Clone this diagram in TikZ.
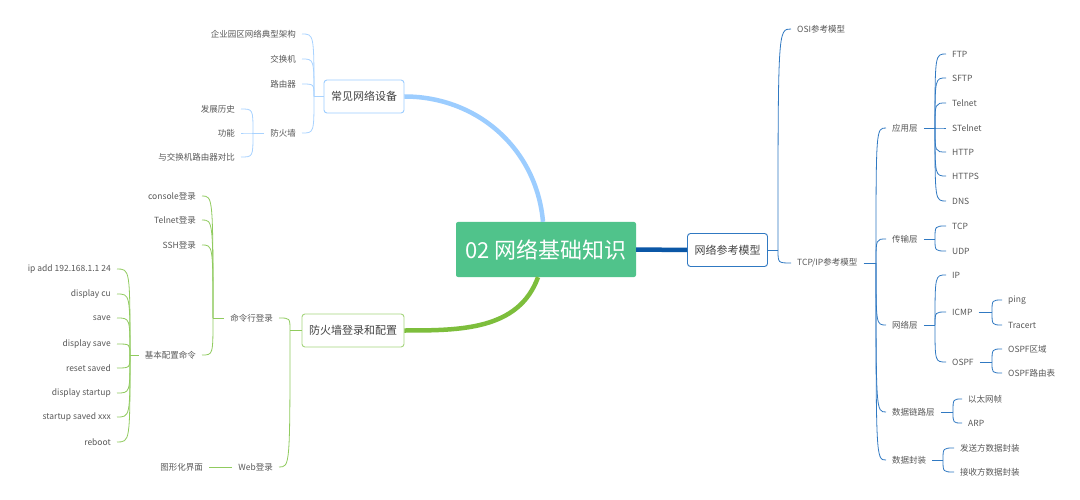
\documentclass[tikz,border=0pt]{standalone}
\usepackage{fontspec}
\setmainfont{Noto Sans CJK SC}
\usepackage{xcolor}
\usepackage{tikz}
\definecolor{MapGreen}{HTML}{50C38B}
\definecolor{MapSky}{HTML}{9CCDFF}
\definecolor{MapGrass}{HTML}{7DBE3C}
\definecolor{MapOcean}{HTML}{0B57A6}
\definecolor{SkyLine}{HTML}{A9D3FF}
\definecolor{GrassLine}{HTML}{90CB5E}
\definecolor{OceanLine}{HTML}{3079C2}
\definecolor{TextDark}{HTML}{444444}
\definecolor{TextGray}{HTML}{585858}

\begin{document}
\begin{tikzpicture}[
    x=1pt,y=-1pt,
    root/.style={fill=MapGreen, text=white, rounded corners=2pt, minimum width=180pt, minimum height=55pt, inner xsep=6pt, font=\fontsize{22}{26}\selectfont},
    topic/.style={fill=white, rounded corners=3pt, line width=0.9pt, minimum height=33pt, inner xsep=7pt, text=TextDark, font=\fontsize{11}{13}\selectfont},
    leaf/.style={inner xsep=6pt, inner ysep=2pt, text=TextGray, font=\fontsize{8.5}{10}\selectfont},
    skyline/.style={draw=SkyLine, line width=0.8pt},
    grassline/.style={draw=GrassLine, line width=0.8pt},
    oceanline/.style={draw=OceanLine, line width=0.8pt}
  ]
    \fill[white] (0,0) rectangle (1080,500);
    \useasboundingbox (0,0) rectangle (1080,500);

    \node[root] (root) at (546,249.5) {02 网络基础知识};
    \node[topic, draw=MapSky] (cat1) at (364,96.5) {常见网络设备};
    \node[topic, draw=GrassLine!80] (cat2) at (353,330.5) {防火墙登录和配置};
    \node[topic, draw=OceanLine] (cat3) at (727.5,250) {网络参考模型};
    \draw[line width=4.5pt, MapSky] ([xshift=-3pt]root.north) to[out=95,in=0] (cat1.east);
    \draw[line width=4.5pt, MapGrass] ([xshift=-8pt]root.south) to[out=-110,in=0] (cat2.east);
    \draw[line width=4.5pt, MapOcean] (root.east) -- (cat3.west);

    \coordinate (f1) at (314,96.5);
    \draw[skyline] (cat1.west) -- (f1);
    \foreach \n/\y/\t in {park/34/企业园区网络典型架构, switch/59/交换机, router/84/路由器, fw/133/防火墙} {
      \node[leaf, anchor=east] (\n) at (302,\y) {\t};
      \draw[skyline] (f1) .. controls (f1 |- \n.east) .. (\n.east);
    }
    \coordinate (f1b) at (253,133);
    \draw[skyline] (fw.west) -- (f1b);
    \foreach \n/\y/\t in {hist/109/发展历史, func/133/功能, cmp/157/与交换机路由器对比} {
      \node[leaf, anchor=east] (\n) at (241,\y) {\t};
      \draw[skyline] (f1b) .. controls (f1b |- \n.east) .. (\n.east);
    }

    \coordinate (f2) at (290,330.5);
    \draw[grassline] (cat2.west) -- (f2);
    \foreach \n/\y/\t in {cmd/318/命令行登录, web/467/Web登录} {
      \node[leaf, anchor=east] (\n) at (279,\y) {\t};
      \draw[grassline] (f2) .. controls (f2 |- \n.east) .. (\n.east);
    }
    \coordinate (f3) at (213,318);
    \draw[grassline] (cmd.west) -- (f3);
    \foreach \n/\y/\t in {console/196/console登录, telnetlog/220/Telnet登录, ssh/245/SSH登录, basic/355/基本配置命令} {
      \node[leaf, anchor=east] (\n) at (202,\y) {\t};
      \draw[grassline] (f3) .. controls (f3 |- \n.east) .. (\n.east);
    }
    \coordinate (f4) at (130,355);
    \draw[grassline] (basic.west) -- (f4);
    \foreach \n/\y/\t in {ipadd/269/ip add 192.168.1.1 24, dispcu/294/display cu, save/318/save, dispsave/344/display save, reset/368/reset saved, dispstart/393/display startup, startsaved/417/startup saved xxx, reboot/442/reboot} {
      \node[leaf, anchor=east] (\n) at (117,\y) {\t};
      \draw[grassline] (f4) .. controls (f4 |- \n.east) .. (\n.east);
    }
    \node[leaf, anchor=east] (gui) at (209,467) {图形化界面};
    \draw[grassline] (web.west) -- (gui.east);

    \coordinate (f5) at (778,250);
    \draw[oceanline] (cat3.east) -- (f5);
    \foreach \n/\y/\t in {osi/29/OSI参考模型, tcpip/263/{TCP/IP参考模型}} {
      \node[leaf, anchor=west] (\n) at (791,\y) {\t};
      \draw[oceanline] (f5) .. controls (f5 |- \n.west) .. (\n.west);
    }
    \coordinate (f6) at (876,263);
    \draw[oceanline] (tcpip.east) -- (f6);
    \foreach \n/\y/\t in {app/128/应用层, trans/239/传输层, net/325/网络层, link/412/数据链路层, encap/460/数据封装} {
      \node[leaf, anchor=west] (\n) at (886,\y) {\t};
      \draw[oceanline] (f6) .. controls (f6 |- \n.west) .. (\n.west);
    }
    \coordinate (f7) at (935,128);
    \draw[oceanline] (app.east) -- (f7);
    \foreach \n/\y/\t in {ftp/54/FTP, sftp/78/SFTP, telnet/103/Telnet, stelnet/128/STelnet, http/152/HTTP, https/176/HTTPS, dns/201/DNS} {
      \node[leaf, anchor=west] (\n) at (946,\y) {\t};
      \draw[oceanline] (f7) .. controls (f7 |- \n.west) .. (\n.west);
    }
    \coordinate (f8) at (935,239);
    \draw[oceanline] (trans.east) -- (f8);
    \foreach \n/\y/\t in {tcp/226/TCP, udp/251/UDP} {
      \node[leaf, anchor=west] (\n) at (946,\y) {\t};
      \draw[oceanline] (f8) .. controls (f8 |- \n.west) .. (\n.west);
    }
    \coordinate (f9) at (935,325);
    \draw[oceanline] (net.east) -- (f9);
    \foreach \n/\y/\t in {ip/275/IP, icmp/312/ICMP, ospf/362/OSPF} {
      \node[leaf, anchor=west] (\n) at (946,\y) {\t};
      \draw[oceanline] (f9) .. controls (f9 |- \n.west) .. (\n.west);
    }
    \coordinate (f10) at (992,312);
    \draw[oceanline] (icmp.east) -- (f10);
    \foreach \n/\y/\t in {ping/300/ping, tracert/325/Tracert} {
      \node[leaf, anchor=west] (\n) at (1002,\y) {\t};
      \draw[oceanline] (f10) .. controls (f10 |- \n.west) .. (\n.west);
    }
    \coordinate (f11) at (992,362);
    \draw[oceanline] (ospf.east) -- (f11);
    \foreach \n/\y/\t in {area/349/OSPF区域, rtable/373/OSPF路由表} {
      \node[leaf, anchor=west] (\n) at (1002,\y) {\t};
      \draw[oceanline] (f11) .. controls (f11 |- \n.west) .. (\n.west);
    }
    \coordinate (f12) at (953,412);
    \draw[oceanline] (link.east) -- (f12);
    \foreach \n/\y/\t in {eth/399/以太网帧, arp/423/ARP} {
      \node[leaf, anchor=west] (\n) at (962,\y) {\t};
      \draw[oceanline] (f12) .. controls (f12 |- \n.west) .. (\n.west);
    }
    \coordinate (f13) at (943,460);
    \draw[oceanline] (encap.east) -- (f13);
    \foreach \n/\y/\t in {send/448/发送方数据封装, recv/472/接收方数据封装} {
      \node[leaf, anchor=west] (\n) at (954,\y) {\t};
      \draw[oceanline] (f13) .. controls (f13 |- \n.west) .. (\n.west);
    }
  \end{tikzpicture}
\end{document}
